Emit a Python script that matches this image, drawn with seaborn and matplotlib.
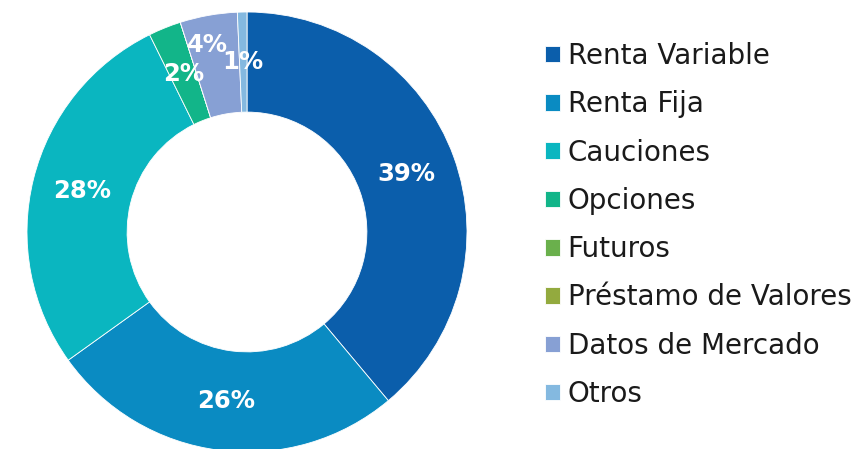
import numpy as np
import matplotlib
matplotlib.use("Agg")
import matplotlib.pyplot as plt
import seaborn as sns

# Data (share of total, %)
categories = ['Renta Variable', 'Renta Fija', 'Cauciones', 'Opciones',
              'Futuros', 'Préstamo de Valores', 'Datos de Mercado', 'Otros']
shares = [38.9, 26.2, 27.6, 2.4, 0.0, 0.0, 4.2, 0.7]
colors = ['#0b5eab', '#0a8bc2', '#0ab6c0', '#12b589',
          '#6ab04c', '#93aa3e', '#87a0d4', '#84b9e0']

sns.set_theme(style='white')
plt.rcParams['font.family'] = ['DejaVu Sans']
palette = sns.color_palette(colors)

fig = plt.figure(figsize=(8.56, 4.49), dpi=100)
# centre (247, 232) px, radius 220 px
ax = fig.add_axes([27 / 856, -3 / 449, 440 / 856, 440 / 449])

wedges, _ = ax.pie(shares, colors=palette, startangle=90, counterclock=False,
                   radius=1.0,
                   wedgeprops=dict(width=0.455, edgecolor='white', linewidth=0.6))
ax.set_xlim(-1, 1)
ax.set_ylim(-1, 1)
ax.set_aspect('equal')
ax.axis('off')

# percentage labels at the middle of each ring segment
for i, (w, v) in enumerate(zip(wedges, shares)):
    if v < 0.5:
        continue
    if i == 6:
        # "4%" sits a little further out and off-centre
        ang = np.deg2rad(w.theta1 + (w.theta2 - w.theta1) * 0.62)
        r = 0.87
    else:
        ang = np.deg2rad((w.theta1 + w.theta2) / 2)
        r = 0.772
    ax.text(r * np.cos(ang), r * np.sin(ang), f'{round(v):.0f}%',
            ha='center', va='center', color='white', fontsize=17.5,
            fontweight='bold')

fig.legend(wedges, categories, loc='upper left',
           bbox_to_anchor=(545 / 856, 1 - 42 / 449), frameon=False,
           fontsize=20, labelcolor='#1a1a1a',
           handlelength=0.54, handleheight=0.54,
           handletextpad=0.27, labelspacing=0.73, borderaxespad=0,
           borderpad=0)

fig.savefig('out.png', dpi=100, facecolor='white')
